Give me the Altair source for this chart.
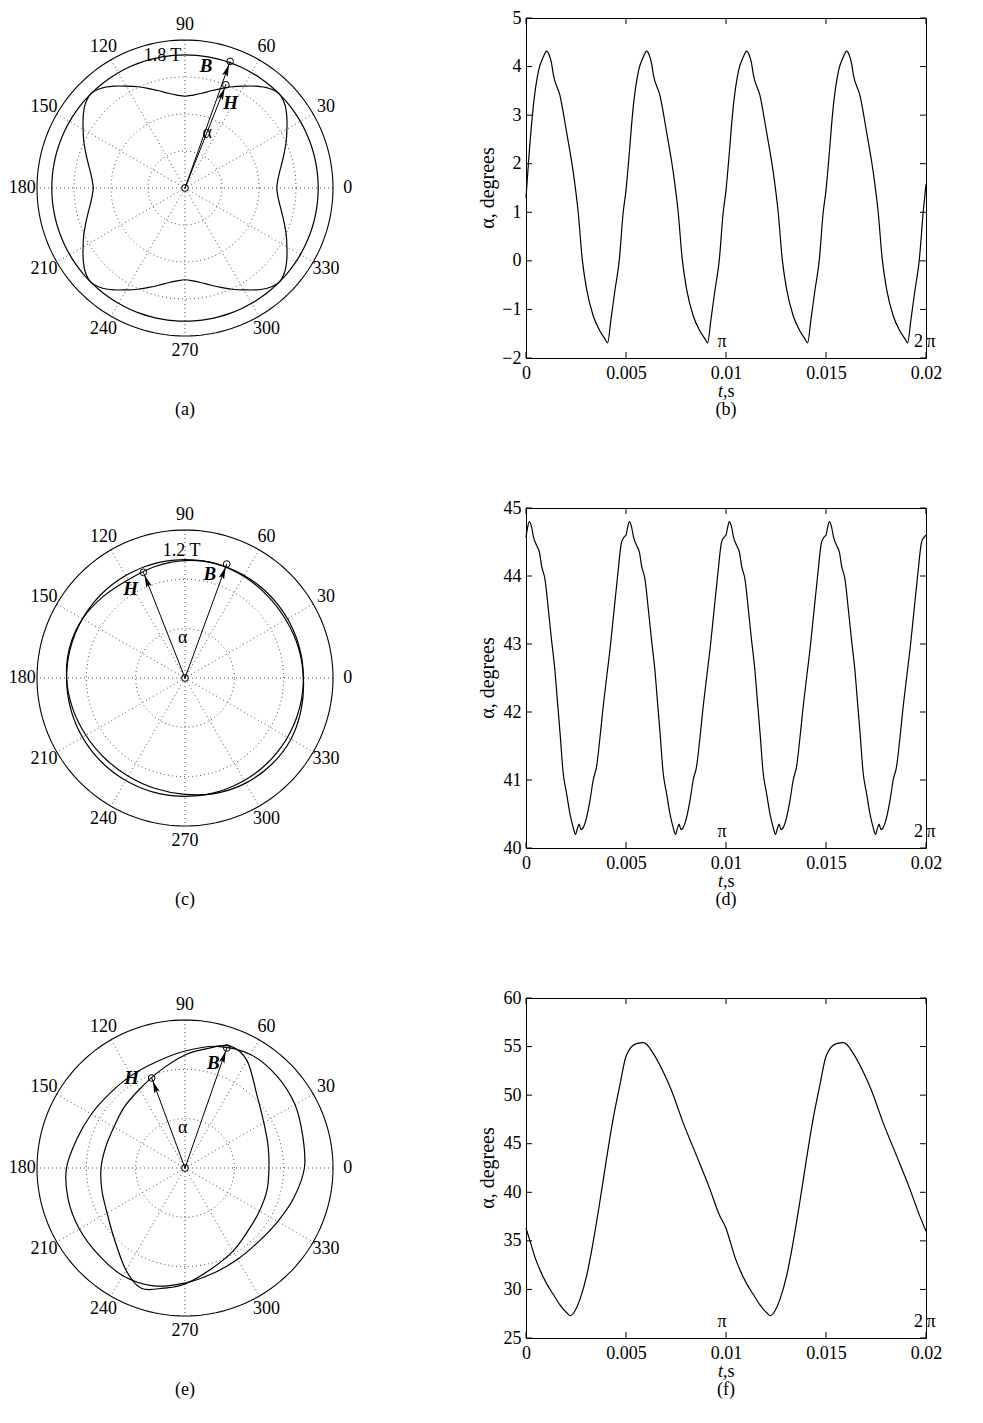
import altair as alt
import pandas as pd

FONT = "Liberation Serif"
GRID = "#3a3a3a"

# ---------------- polar panels (angles in degrees, radii in tesla) ----------------
ang_a = list(range(0, 360, 5))
H_a = [1.24, 1.26, 1.30, 1.36, 1.43, 1.51, 1.59, 1.68, 1.76, 1.80, 1.76, 1.68, 1.59, 1.51, 1.43, 1.36, 1.30, 1.26,
       1.24, 1.26, 1.30, 1.36, 1.43, 1.51, 1.59, 1.68, 1.76, 1.80, 1.76, 1.68, 1.59, 1.51, 1.43, 1.36, 1.30, 1.26,
       1.24, 1.26, 1.30, 1.36, 1.43, 1.51, 1.59, 1.68, 1.76, 1.80, 1.76, 1.68, 1.59, 1.51, 1.43, 1.36, 1.30, 1.26,
       1.24, 1.26, 1.30, 1.36, 1.43, 1.51, 1.59, 1.68, 1.76, 1.80, 1.76, 1.68, 1.59, 1.51, 1.43, 1.36, 1.30, 1.26]
B_a = 1.8
tip_a = {"B": (70.4, 1.816), "H": (68.4, 1.50)}

ang_c = list(range(0, 360, 15))
H_c = [1.20, 1.19, 1.18, 1.18, 1.19, 1.20, 1.19, 1.17, 1.15, 1.17, 1.20, 1.21,
       1.20, 1.18, 1.16, 1.15, 1.15, 1.16, 1.18, 1.21, 1.23, 1.24, 1.24, 1.22]
B_c = 1.2
tip_c = {"B": (69.9, 1.23), "H": (111.5, 1.151)}

ang_e1 = list(range(0, 360, 15))
E_e = [1.210, 1.236, 1.287, 1.318, 1.328, 1.277, 1.186, 1.115, 1.084, 1.074, 1.095, 1.135,
       1.201, 1.226, 1.236, 1.242, 1.260, 1.236, 1.166, 1.105, 1.068, 1.055, 1.085, 1.145]
ang_e2 = [0, 15, 30, 45, 60, 70, 80, 90, 105, 120, 135, 150, 165, 180, 195, 210, 225, 240, 250, 260,
          270, 285, 300, 315, 330, 345]
L_e = [0.851, 0.872, 0.922, 1.034, 1.257, 1.318, 1.226, 1.145, 1.014, 0.922, 0.872, 0.831, 0.831,
       0.851, 0.872, 0.912, 1.014, 1.196, 1.297, 1.236, 1.176, 1.054, 0.973, 0.902, 0.872, 0.861]
tip_e = {"B": (70.8, 1.288), "H": (110.3, 0.973)}

angle_labels = list(range(0, 360, 30))

# ---------------- time panels (t in ms, alpha in degrees) ----------------
t_b = [0.00, 0.12, 0.37, 0.62, 0.87, 1.03, 1.15, 1.28, 1.36, 1.70, 2.03, 2.36, 2.61, 2.81, 3.03, 3.36, 3.69, 3.94, 4.08, 4.25, 4.45, 4.66, 4.86,
       5.00, 5.12, 5.37, 5.62, 5.87, 6.03, 6.15, 6.28, 6.36, 6.70, 7.03, 7.36, 7.61, 7.81, 8.03, 8.36, 8.69, 8.94, 9.08, 9.25, 9.45, 9.66, 9.86,
       10.00, 10.12, 10.37, 10.62, 10.87, 11.03, 11.15, 11.28, 11.36, 11.70, 12.03, 12.36, 12.61, 12.81, 13.03, 13.36, 13.69, 13.94, 14.08, 14.25, 14.45, 14.66, 14.86,
       15.00, 15.12, 15.37, 15.62, 15.87, 16.03, 16.15, 16.28, 16.36, 16.70, 17.03, 17.36, 17.61, 17.81, 18.03, 18.36, 18.69, 18.94, 19.08, 19.25, 19.45, 19.66, 19.86,
       20.00]
a_b = [1.30, 2.00, 3.20, 3.90, 4.20, 4.32, 4.25, 4.06, 3.85, 3.40, 2.65, 1.83, 1.00, 0.04, -0.58, -1.13, -1.44, -1.60, -1.69, -1.20, -0.60, 0.00, 1.00,
       1.45, 2.00, 3.20, 3.90, 4.20, 4.32, 4.25, 4.06, 3.85, 3.40, 2.65, 1.83, 1.00, 0.04, -0.58, -1.13, -1.44, -1.60, -1.69, -1.20, -0.60, 0.00, 1.00,
       1.45, 2.00, 3.20, 3.90, 4.20, 4.32, 4.25, 4.06, 3.85, 3.40, 2.65, 1.83, 1.00, 0.04, -0.58, -1.13, -1.44, -1.60, -1.69, -1.20, -0.60, 0.00, 1.00,
       1.45, 2.00, 3.20, 3.90, 4.20, 4.32, 4.25, 4.06, 3.85, 3.40, 2.65, 1.83, 1.00, 0.04, -0.58, -1.13, -1.44, -1.60, -1.69, -1.20, -0.60, 0.00, 1.00,
       1.58]

t_d = [0.00, 0.07, 0.17, 0.28, 0.37, 0.53, 0.67, 0.78, 0.95, 1.12, 1.28, 1.45, 1.56, 1.70, 1.86, 2.03, 2.20, 2.36, 2.48, 2.56, 2.65, 2.75, 2.86, 3.03, 3.20, 3.36, 3.53, 3.69, 3.83, 4.23, 4.58, 4.78, 4.93,
       5.00, 5.07, 5.17, 5.28, 5.37, 5.53, 5.67, 5.78, 5.95, 6.12, 6.28, 6.45, 6.56, 6.70, 6.86, 7.03, 7.20, 7.36, 7.48, 7.56, 7.65, 7.75, 7.86, 8.03, 8.20, 8.36, 8.53, 8.69, 8.83, 9.23, 9.58, 9.78, 9.93,
       10.00, 10.07, 10.17, 10.28, 10.37, 10.53, 10.67, 10.78, 10.95, 11.12, 11.28, 11.45, 11.56, 11.70, 11.86, 12.03, 12.20, 12.36, 12.48, 12.56, 12.65, 12.75, 12.86, 13.03, 13.20, 13.36, 13.53, 13.69, 13.83, 14.23, 14.58, 14.78, 14.93,
       15.00, 15.07, 15.17, 15.28, 15.37, 15.53, 15.67, 15.78, 15.95, 16.12, 16.28, 16.45, 16.56, 16.70, 16.86, 17.03, 17.20, 17.36, 17.48, 17.56, 17.65, 17.75, 17.86, 18.03, 18.20, 18.36, 18.53, 18.69, 18.83, 19.23, 19.58, 19.78, 19.93,
       20.00]
a_d = [44.57, 44.70, 44.80, 44.72, 44.58, 44.45, 44.35, 44.15, 43.95, 43.50, 43.05, 42.60, 42.20, 41.70, 41.10, 40.80, 40.50, 40.30, 40.20, 40.28, 40.35, 40.27, 40.30, 40.45, 40.70, 41.00, 41.20, 41.60, 42.00, 43.00, 44.00, 44.50, 44.58,
       44.60, 44.70, 44.80, 44.72, 44.58, 44.45, 44.35, 44.15, 43.95, 43.50, 43.05, 42.60, 42.20, 41.70, 41.10, 40.80, 40.50, 40.30, 40.20, 40.28, 40.35, 40.27, 40.30, 40.45, 40.70, 41.00, 41.20, 41.60, 42.00, 43.00, 44.00, 44.50, 44.58,
       44.60, 44.70, 44.80, 44.72, 44.58, 44.45, 44.35, 44.15, 43.95, 43.50, 43.05, 42.60, 42.20, 41.70, 41.10, 40.80, 40.50, 40.30, 40.20, 40.28, 40.35, 40.27, 40.30, 40.45, 40.70, 41.00, 41.20, 41.60, 42.00, 43.00, 44.00, 44.50, 44.58,
       44.60, 44.70, 44.80, 44.72, 44.58, 44.45, 44.35, 44.15, 43.95, 43.50, 43.05, 42.60, 42.20, 41.70, 41.10, 40.80, 40.50, 40.30, 40.20, 40.28, 40.35, 40.27, 40.30, 40.45, 40.70, 41.00, 41.20, 41.60, 42.00, 43.00, 44.00, 44.50, 44.58,
       44.60]

t_f = [0.00, 0.20, 0.45, 0.70, 1.03, 1.36, 1.70, 2.03, 2.23, 2.45, 2.70, 3.03, 3.36, 3.69, 4.03, 4.36, 4.69, 5.02, 5.52, 5.89, 6.36, 6.86, 7.27, 7.85, 8.52, 9.18, 9.68,
       10.00, 10.20, 10.45, 10.70, 11.03, 11.36, 11.70, 12.03, 12.23, 12.45, 12.70, 13.03, 13.36, 13.69, 14.03, 14.36, 14.69, 15.02, 15.52, 15.89, 16.36, 16.86, 17.27, 17.85, 18.52, 19.18, 19.68,
       20.00]
a_f = [36.3, 35.0, 33.3, 32.0, 30.6, 29.5, 28.4, 27.6, 27.3, 27.8, 29.0, 31.4, 34.9, 39.0, 43.5, 47.6, 51.0, 54.1, 55.3, 55.4, 54.3, 52.4, 50.5, 47.2, 43.8, 40.4, 37.6,
       36.3, 35.0, 33.3, 32.0, 30.6, 29.5, 28.4, 27.6, 27.3, 27.8, 29.0, 31.4, 34.9, 39.0, 43.5, 47.6, 51.0, 54.1, 55.3, 55.4, 54.3, 52.4, 50.5, 47.2, 43.8, 40.4, 37.6,
       36.0]

x_ticks = [0, 0.005, 0.01, 0.015, 0.02]

PW = 340          # polar panel view size
RPX = 148         # outer ring radius in px
TW, TH = 400, 340 # time panel plot area
FS = 18

ARROW = "M0,-1L0.42,0.8L0,0.45L-0.42,0.8Z"
CALC = dict(px="datum.r*cos(datum.th*PI/180)", py="datum.r*sin(datum.th*PI/180)")


def polar_panel(rmax, rings, curves, tips, texts, caption):
    half = (PW / 2) / RPX * rmax
    sc = alt.Scale(domain=[-half, half], nice=False, zero=False)
    X = alt.X("px:Q", scale=sc, axis=None)
    Y = alt.Y("py:Q", scale=sc, axis=None)

    grid_rows, outer_rows = [], []
    for k, rr in enumerate(rings):
        for a in range(0, 362, 2):
            grid_rows.append({"ring": k, "th": a, "r": rr})
    for a in range(0, 362, 2):
        outer_rows.append({"ring": 0, "th": a, "r": rmax})
    g_ring = alt.Chart(pd.DataFrame(grid_rows)).transform_calculate(**CALC).mark_line(
        color=GRID, strokeWidth=0.9, strokeDash=[1, 3]).encode(X, Y, detail="ring:N", order="th:Q")
    g_outer = alt.Chart(pd.DataFrame(outer_rows)).transform_calculate(**CALC).mark_line(
        color="black", strokeWidth=1.1).encode(X, Y, order="th:Q")
    sp = pd.DataFrame({"th": list(range(0, 180, 30)), "r": [rmax] * 6})
    g_spoke = alt.Chart(sp).transform_calculate(**CALC).transform_calculate(
        qx="-datum.px", qy="-datum.py").mark_rule(
        color=GRID, strokeWidth=0.9, strokeDash=[1, 3]).encode(X, Y, x2="qx:Q", y2="qy:Q")
    lab = pd.DataFrame({"th": angle_labels, "r": [1.10 * rmax] * len(angle_labels),
                        "lab": [str(a) for a in angle_labels]})
    g_lab = alt.Chart(lab).transform_calculate(**CALC).mark_text(
        font=FONT, fontSize=FS, color="black", baseline="middle").encode(X, Y, text="lab:N")

    crow = []
    for name, angs, rads in curves:
        for i, (a, r) in enumerate(zip(angs, rads)):
            crow.append({"curve": name, "i": i, "th": a, "r": r})
    g_curve = alt.Chart(pd.DataFrame(crow)).transform_calculate(**CALC).mark_line(
        color="black", strokeWidth=1.2, interpolate="cardinal-closed").encode(
        X, Y, detail="curve:N", order="i:Q")

    tp = pd.DataFrame({"name": list(tips.keys()),
                       "th": [v[0] for v in tips.values()],
                       "r": [v[1] for v in tips.values()]})
    off = 10.0 / RPX * rmax
    g_vec = alt.Chart(tp).transform_calculate(**CALC).transform_calculate(
        zx="0", zy="0").mark_rule(color="black", strokeWidth=1).encode(X, Y, x2="zx:Q", y2="zy:Q")
    g_head = alt.Chart(tp).transform_calculate(r=f"datum.r - {off}").transform_calculate(
        **CALC).transform_calculate(ang="(450 - datum.th) % 360").mark_point(
        shape=ARROW, filled=True, size=190, color="black", strokeWidth=0, opacity=1).encode(
        X, Y, angle=alt.Angle("ang:Q", scale=None))
    mk = pd.DataFrame({"th": [0] + [v[0] for v in tips.values()],
                       "r": [0] + [v[1] for v in tips.values()]})
    g_mark = alt.Chart(mk).transform_calculate(**CALC).mark_point(
        shape="circle", size=45, filled=False, color="black", strokeWidth=1, opacity=1).encode(X, Y)

    layers = [g_ring, g_spoke, g_outer, g_lab, g_curve, g_vec, g_head, g_mark]
    for (tx, ty, txt, style) in texts:
        df = pd.DataFrame({"px": [tx], "py": [ty], "s": [txt]})
        if style == "bi":
            m = alt.Chart(df).mark_text(font=FONT, fontSize=19, fontWeight="bold",
                                        fontStyle="italic", color="black")
        else:
            m = alt.Chart(df).mark_text(font=FONT, fontSize=FS, color="black")
        layers.append(m.encode(X, Y, text="s:N"))
    cap = alt.Chart(pd.DataFrame({"c": [caption]})).mark_text(
        font=FONT, fontSize=FS, color="black").encode(
        x=alt.value(PW / 2), y=alt.value(392), text="c:N")
    layers.append(cap)
    return alt.layer(*layers).properties(width=PW, height=PW,
                                         view=alt.ViewBackground(strokeOpacity=0))


def time_panel(t_ms, vals, ydom, yticks, caption):
    df = pd.DataFrame({"t": [v / 1000 for v in t_ms], "a": vals})
    sx = alt.Scale(domain=[0, 0.02], nice=False, zero=False)
    sy = alt.Scale(domain=ydom, nice=False, zero=False)
    ax_x = alt.Axis(values=x_ticks, format="~g", ticks=False, domain=False,
                    grid=False, labelFont=FONT, labelFontSize=FS,
                    labelColor="black", labelPadding=6, title=None, labelFlush=False)
    ax_y = alt.Axis(values=yticks, ticks=False, domain=False, grid=False,
                    labelFont=FONT, labelFontSize=FS, labelColor="black",
                    labelPadding=5, title=None, labelFlush=False)
    XE = alt.X("t:Q", scale=sx, axis=ax_x)
    YE = alt.Y("a:Q", scale=sy, axis=ax_y)
    line = alt.Chart(df).mark_line(color="black", strokeWidth=1.2, interpolate="monotone").encode(XE, YE)
    xt = pd.DataFrame({"t": x_ticks})
    yt = pd.DataFrame({"a": yticks})
    tk = []
    for y0, y1 in [(TH, TH - 6), (0, 6)]:
        tk.append(alt.Chart(xt).mark_rule(color="black", strokeWidth=1).encode(
            XE, y=alt.value(y0), y2=alt.value(y1)))
    for x0, x1 in [(0, 6), (TW, TW - 6)]:
        tk.append(alt.Chart(yt).mark_rule(color="black", strokeWidth=1).encode(
            YE, x=alt.value(x0), x2=alt.value(x1)))
    pi = pd.DataFrame({"t": [0.0098, 0.01994], "s": ["\u03c0", "2\u2009\u03c0"]})
    g_pi = alt.Chart(pi).mark_text(font=FONT, fontSize=FS, color="black").encode(
        XE, y=alt.value(TH - 16), text="s:N")
    ylab = alt.Chart(pd.DataFrame({"s": ["\u03b1, degrees"]})).mark_text(
        font=FONT, fontSize=20, angle=270, color="black").encode(
        x=alt.value(-38), y=alt.value(TH / 2), text="s:N")
    xl1 = alt.Chart(pd.DataFrame({"s": ["t"]})).mark_text(
        font=FONT, fontSize=FS, fontStyle="italic", align="right", color="black").encode(
        x=alt.value(197), y=alt.value(TH + 34), text="s:N")
    xl2 = alt.Chart(pd.DataFrame({"s": [",s"]})).mark_text(
        font=FONT, fontSize=FS, align="left", color="black").encode(
        x=alt.value(197), y=alt.value(TH + 34), text="s:N")
    cap = alt.Chart(pd.DataFrame({"c": [caption]})).mark_text(
        font=FONT, fontSize=FS, color="black").encode(
        x=alt.value(TW / 2), y=alt.value(392), text="c:N")
    return alt.layer(line, *tk, g_pi, ylab, xl1, xl2, cap).properties(width=TW, height=TH)


pa = polar_panel(2.0, [0.5, 1.0, 1.5],
                 [("H", ang_a, H_a), ("B", list(range(0, 360, 5)), [B_a] * 72)],
                 tip_a,
                 [(0.284, 1.643, "B", "bi"), (0.617, 1.149, "H", "bi"), (0.30, 0.74, "\u03b1", "n"),
                  (-0.304, 1.788, "1.8 T", "n")], "(a)")
pc = polar_panel(1.5, [0.5, 1.0],
                 [("H", ang_c, H_c), ("B", list(range(0, 360, 5)), [B_c] * 72)],
                 tip_c,
                 [(0.253, 1.054, "B", "bi"), (-0.55, 0.902, "H", "bi"), (-0.023, 0.405, "\u03b1", "n"),
                  (-0.034, 1.29, "1.2 T", "n")], "(c)")
pe = polar_panel(1.5, [0.5, 1.0],
                 [("E", ang_e1, E_e), ("L", ang_e2, L_e)],
                 tip_e,
                 [(0.287, 1.064, "B", "bi"), (-0.54, 0.912, "H", "bi"), (-0.023, 0.405, "\u03b1", "n")],
                 "(e)")

tb = time_panel(t_b, a_b, [-2, 5], list(range(-2, 6)), "(b)")
td = time_panel(t_d, a_d, [40, 45], list(range(40, 46)), "(d)")
tf = time_panel(t_f, a_f, [25, 60], list(range(25, 61, 5)), "(f)")

chart = alt.concat(pa, tb, pc, td, pe, tf, columns=2,
                   spacing={"row": 150, "column": 171}, bounds="flush").properties(
    padding={"left": 0, "top": 0, "right": 0, "bottom": 0}).configure_view(
    stroke="black", strokeWidth=1)

chart.save("out.html", embed_options={"renderer": "svg", "actions": False})
